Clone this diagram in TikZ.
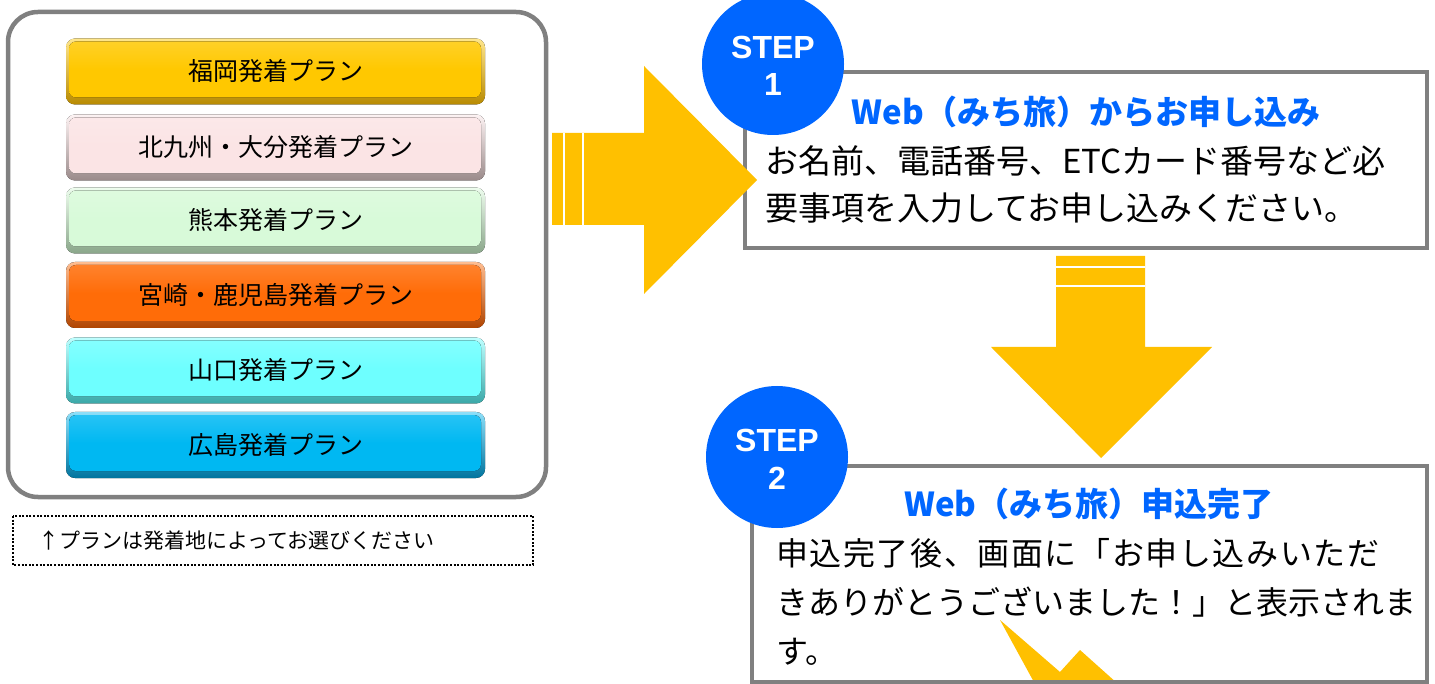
\documentclass[tikz,border=0pt]{standalone}
\usepackage{fontspec}
\setmainfont{Liberation Sans}
\newfontfamily\jp{Noto Sans CJK JP}
\definecolor{panelgray}{HTML}{808080}
\definecolor{arrowgold}{HTML}{FFC000}
\definecolor{stepblue}{HTML}{0066FF}
\definecolor{faceA}{HTML}{FFC800}\definecolor{edgeA}{HTML}{B88A00}
\definecolor{faceB}{HTML}{FBE4E5}\definecolor{edgeB}{HTML}{9A8A8A}
\definecolor{faceC}{HTML}{D8FAD9}\definecolor{edgeC}{HTML}{8AA68A}
\definecolor{faceD}{HTML}{FF6C08}\definecolor{edgeD}{HTML}{B04400}
\definecolor{faceE}{HTML}{6EFFFF}\definecolor{edgeE}{HTML}{3AA8A8}
\definecolor{faceF}{HTML}{00B8F2}\definecolor{edgeF}{HTML}{00749E}
\tikzset{
  plantext/.style={anchor=base, inner sep=0pt, font=\jp\fontsize{25}{30}\selectfont, text=black},
  boxframe/.style={line width=4pt, draw=panelgray, fill=white},
  titletext/.style={anchor=base, inner sep=0pt, font=\jp\bfseries\fontsize{33}{40}\selectfont, text=stepblue},
  bodytext/.style={anchor=base west, inner sep=0pt, text=black},
  stepdisc/.style={circle, fill=stepblue, minimum size=142pt, inner sep=0pt},
  steptext/.style={anchor=base, inner sep=0pt, text=white, font=\bfseries\fontsize{32}{36}\selectfont},
  bigarrow/.style={fill=arrowgold},
  arrowline/.style={draw=white, line width=1.5pt},
}
\newcommand\planbtn[5]{%
  \fill[rounded corners=9pt, top color=#3!45!white, bottom color=#4] (66,#2-33) rectangle (485,#2+33);
  \fill[rounded corners=7pt, top color=#3!85!white, bottom color=#3, middle color=#3] (69,#2-30) rectangle (481,#2+26);
  \node[plantext] (#1) at (275.5,#2+9.5) {#5};
}
\begin{document}
\begin{tikzpicture}[x=1pt,y=-1pt]
\useasboundingbox (0,0) rectangle (1435,684);
\fill[white] (0,0) rectangle (1435,684);

% left panel
\draw[line width=4.5pt, draw=panelgray, rounded corners=30pt] (8,12) rectangle (546,497);
\planbtn{fukuoka}{71.5}{faceA}{edgeA}{福岡発着プラン}
\planbtn{kitakyu}{147.5}{faceB}{edgeB}{北九州・大分発着プラン}
\planbtn{kumamoto}{220.5}{faceC}{edgeC}{熊本発着プラン}
\planbtn{miyazaki}{295}{faceD}{edgeD}{宮崎・鹿児島発着プラン}
\planbtn{yamaguchi}{370.5}{faceE}{edgeE}{山口発着プラン}
\planbtn{hiroshima}{445}{faceF}{edgeF}{広島発着プラン}

% note
\draw[line width=2.4pt, dash pattern=on 2pt off 1.6pt] (13,516) rectangle (533,565);
\node[bodytext, font=\jp\fontsize{21}{25}\selectfont] (note) at (38,548) {↑プランは発着地によってお選びください};

% step 1 box
\draw[boxframe] (745,72) rectangle (1427,248);
\node[titletext] (title1) at (1086,124.5) {Web（みち旅）からお申し込み};
\node[bodytext, font=\jp\fontsize{33}{40}\selectfont] (body1a) at (765,174) {お名前、電話番号、ETCカード番号など必};
\node[bodytext, font=\jp\fontsize{33}{40}\selectfont] (body1b) at (765,221) {要事項を入力してお申し込みください。};

% right arrow
\fill[bigarrow] (552,133) -- (644,133) -- (644,66) -- (757,180) -- (644,294) -- (644,225) -- (552,225) -- cycle;
\draw[arrowline] (564,133) -- (564,225);
\draw[arrowline] (583,133) -- (583,225);

% down arrow
\fill[bigarrow] (1056,256) -- (1145,256) -- (1145,347) -- (1212,347) -- (1101,458) -- (991,347) -- (1056,347) -- cycle;
\draw[arrowline] (1056,267) -- (1145,267);
\draw[arrowline] (1056,286) -- (1145,286);

% step 2 box
\fill[white] (752,466) rectangle (1427,682);
\fill[bigarrow] (1000,620) -- (1060,672) -- (1080,650) -- (1118,684) -- (1035,684) -- cycle;
\draw[line width=4pt, draw=panelgray] (752,466) rectangle (1427,682);
\node[titletext] (title2) at (1089,516.5) {Web（みち旅）申込完了};
\node[bodytext, font=\jp\fontsize{32}{40}\selectfont\addfontfeature{LetterSpace=5}] (body2a) at (776,565) {申込完了後、画面に「お申し込みいただ};
\node[bodytext, font=\jp\fontsize{32}{40}\selectfont] (body2b) at (776,614) {きありがとうございました！」と表示されま};
\node[bodytext, font=\jp\fontsize{32}{40}\selectfont] (body2c) at (776,663) {す。};

% step discs
\node[stepdisc] (disc1) at (773,64) {};
\node[steptext] (step1) at (773,58.5) {STEP};
\node[steptext] (num1) at (773,95.5) {1};
\node[stepdisc] (disc2) at (777,457) {};
\node[steptext] (step2) at (777,451.5) {STEP};
\node[steptext] (num2) at (777,489.5) {2};
\end{tikzpicture}
\end{document}
